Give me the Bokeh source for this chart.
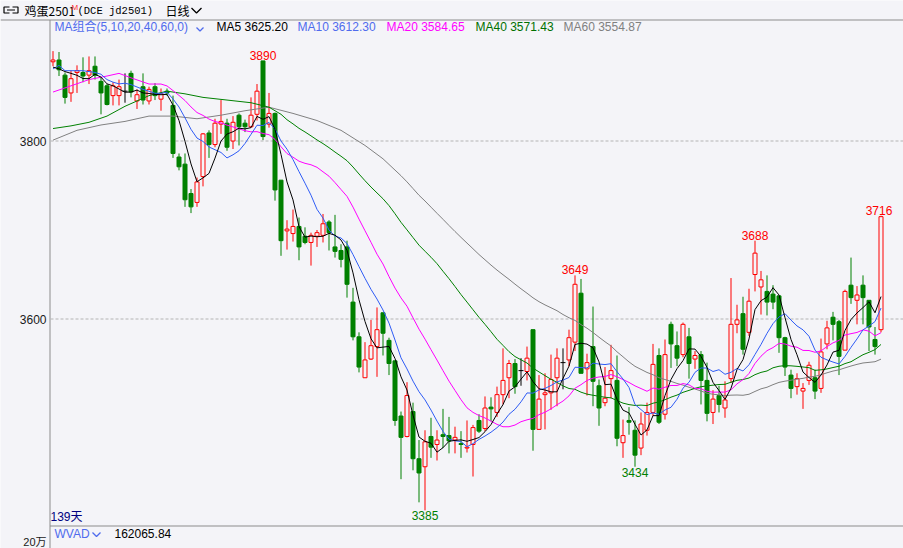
import numpy as np
import pandas as pd
from bokeh.plotting import figure
from bokeh.models import Range1d
from bokeh.core.properties import value
from bokeh.embed import file_html
from bokeh.resources import INLINE

# ---------------- data (daily OHLC, 139 bars) ----------------
opens = [3889, 3891, 3874, 3854, 3877, 3877, 3874, 3884, 3867, 3862,
         3851, 3851, 3856, 3876, 3845, 3861, 3845, 3861, 3847, 3856,
         3840, 3782, 3774, 3741, 3731, 3760, 3809, 3796, 3819, 3820,
         3800, 3829, 3820, 3816, 3830, 3890, 3819, 3831, 3756, 3699,
         3696, 3704, 3693, 3686, 3693, 3694, 3709, 3681, 3677, 3681,
         3619, 3580, 3534, 3555, 3569, 3607, 3576, 3553, 3491, 3468,
         3496, 3443, 3434, 3468, 3459, 3470, 3469, 3464, 3460, 3455,
         3459, 3486, 3477, 3501, 3495, 3515, 3534, 3550, 3542, 3541,
         3588, 3476, 3515, 3517, 3534, 3551, 3554, 3574, 3629, 3544,
         3569, 3525, 3506, 3533, 3531, 3461, 3486, 3475, 3455, 3475,
         3495, 3559, 3493, 3594, 3570, 3560, 3580, 3555, 3560, 3531,
         3495, 3514, 3500, 3533, 3594, 3606, 3585, 3650, 3636, 3631,
         3628, 3626, 3579, 3537, 3524, 3519, 3531, 3534, 3522, 3572,
         3602, 3597, 3565, 3638, 3621, 3638, 3621, 3577, 3588]
highs = [3901, 3900, 3877, 3879, 3885, 3894, 3895, 3895, 3872, 3864,
         3866, 3869, 3876, 3879, 3858, 3876, 3861, 3865, 3859, 3859,
         3851, 3786, 3786, 3746, 3759, 3809, 3812, 3825, 3846, 3825,
         3828, 3831, 3824, 3849, 3864, 3890, 3854, 3832, 3756, 3711,
         3723, 3714, 3703, 3697, 3700, 3718, 3711, 3717, 3684, 3688,
         3635, 3585, 3574, 3599, 3613, 3607, 3579, 3553, 3496, 3529,
         3506, 3464, 3475, 3489, 3475, 3499, 3490, 3479, 3474, 3486,
         3481, 3493, 3513, 3512, 3524, 3567, 3554, 3555, 3556, 3569,
         3588, 3537, 3539, 3560, 3567, 3567, 3588, 3649, 3645, 3561,
         3614, 3532, 3546, 3571, 3559, 3487, 3501, 3486, 3495, 3506,
         3572, 3567, 3577, 3597, 3586, 3596, 3590, 3564, 3564, 3551,
         3520, 3525, 3530, 3646, 3616, 3625, 3634, 3688, 3654, 3649,
         3638, 3626, 3580, 3543, 3539, 3528, 3552, 3543, 3578, 3598,
         3608, 3599, 3633, 3669, 3637, 3649, 3621, 3591, 3716]
lows = [3884, 3873, 3842, 3844, 3854, 3866, 3864, 3869, 3830, 3840,
        3840, 3840, 3843, 3849, 3836, 3841, 3841, 3846, 3834, 3851,
        3781, 3767, 3726, 3719, 3726, 3749, 3781, 3793, 3808, 3789,
        3791, 3795, 3810, 3815, 3823, 3801, 3815, 3733, 3671, 3678,
        3687, 3666, 3684, 3660, 3681, 3686, 3677, 3669, 3658, 3624,
        3576, 3540, 3534, 3554, 3535, 3559, 3537, 3480, 3420, 3467,
        3430, 3394, 3385, 3444, 3441, 3455, 3449, 3449, 3444, 3450,
        3423, 3472, 3474, 3485, 3490, 3504, 3511, 3516, 3525, 3531,
        3452, 3476, 3476, 3498, 3502, 3521, 3547, 3564, 3539, 3514,
        3502, 3480, 3502, 3511, 3457, 3444, 3470, 3434, 3447, 3469,
        3491, 3482, 3487, 3545, 3547, 3557, 3533, 3544, 3504, 3485,
        3482, 3495, 3489, 3528, 3584, 3560, 3581, 3631, 3605, 3604,
        3611, 3562, 3536, 3511, 3515, 3499, 3526, 3510, 3517, 3566,
        3576, 3537, 3565, 3617, 3594, 3594, 3564, 3560, 3585]
closes = [3891, 3880, 3849, 3870, 3879, 3873, 3879, 3874, 3854, 3841,
          3862, 3861, 3856, 3855, 3852, 3846, 3858, 3851, 3853, 3854,
          3786, 3771, 3734, 3726, 3754, 3808, 3796, 3820, 3822, 3793,
          3821, 3816, 3816, 3829, 3856, 3805, 3831, 3745, 3688, 3701,
          3704, 3681, 3686, 3694, 3697, 3707, 3697, 3676, 3667, 3639,
          3580, 3546, 3554, 3570, 3588, 3584, 3550, 3486, 3467, 3514,
          3443, 3427, 3462, 3456, 3464, 3468, 3463, 3467, 3459, 3456,
          3478, 3474, 3500, 3499, 3515, 3531, 3550, 3524, 3542, 3556,
          3476, 3510, 3517, 3532, 3556, 3551, 3579, 3639, 3539, 3551,
          3530, 3500, 3511, 3542, 3466, 3469, 3484, 3447, 3482, 3495,
          3549, 3484, 3560, 3572, 3556, 3594, 3550, 3559, 3531, 3494,
          3510, 3504, 3509, 3594, 3599, 3566, 3620, 3674, 3644, 3619,
          3619, 3579, 3546, 3522, 3533, 3522, 3548, 3519, 3563, 3590,
          3594, 3558, 3631, 3624, 3627, 3624, 3591, 3569, 3715]

# moving-average values before enough bars exist in the window
ma5_head_idx = [0, 1, 2, 3]
ma5_head = [3883, 3881, 3878, 3876]
ma10_head_idx = [0, 1, 2, 3, 4, 5, 6, 7, 8]
ma10_head = [3881, 3885, 3879, 3879, 3879, 3879, 3878, 3877, 3875]
ma20_head_idx = [0, 3, 6, 9, 11, 13, 16, 18]
ma20_head = [3855, 3862, 3869, 3873, 3876, 3871, 3864, 3864]
ma40_head_idx = [0, 3, 6, 9, 12, 16, 19, 22, 25, 29, 33, 36, 38]
ma40_head = [3814, 3817, 3821, 3828, 3839, 3851, 3856, 3853, 3849, 3846, 3843, 3838, 3830]
ma60_head_idx = [0, 4, 8, 12, 16, 20, 24, 28, 32, 36, 40, 44, 48, 52, 55, 58]
ma60_head = [3801, 3812, 3818, 3822, 3828, 3828, 3825, 3829, 3834, 3838, 3831, 3823, 3812, 3795, 3780, 3761]

ma_periods = [5, 10, 20, 40, 60]
ma_labels = ["MA5 3625.20", "MA10 3612.30", "MA20 3584.65", "MA40 3571.43", "MA60 3554.87"]
y_ticks = [3600, 3800]
peak_idx = [35, 87, 117, 138]
trough_idx = [62, 97]
title_name = "鸡蛋2501"
title_code = "(DCE jd2501)"
title_period = "日线"
ma_group_label = "MA组合(5,10,20,40,60,0)"
days_label = "139天"
sub_name = "WVAD"
sub_value = "162065.84"
sub_tick = "20万"

# ---------------- styling ----------------
BG = "#F4F4F8"
RED = "#FF0000"
GREEN = "#008000"
LINE_GREY = "#8C8C8C"
BLUE_TXT = "#4F6BED"
MA_COLORS = ["#000000", "#2F5CF5", "#FF00FF", "#008000", "#808080"]
MA_TXT_COLORS = ["#000000", BLUE_TXT, "#FF00FF", "#007000", "#808080"]
LATIN = value("'Liberation Sans', 'Noto Sans CJK SC', sans-serif")
CJK = value("'Noto Sans CJK SC', sans-serif")
MONO = value("'Liberation Mono', monospace")

W, H = 903, 548


def dx(px):
    # canvas pixel column -> bar index units
    return (px - 52.5) / 6.0


def dy(py):
    # canvas pixel row -> price units
    return 3600 + (318.5 - py) / 0.89


PX = 1.0 / 6.0

p = figure(width=W, height=H,
           x_range=Range1d(dx(0), dx(W)), y_range=Range1d(dy(H), dy(0)),
           x_axis_type=None, y_axis_type=None,
           toolbar_location=None, output_backend="svg",
           min_border=0, min_border_left=0, min_border_right=0,
           min_border_top=0, min_border_bottom=0,
           background_fill_color=BG, border_fill_color=BG,
           outline_line_color=None)

# ---------------- frame lines and grid ----------------
p.segment(x0=[dx(0), dx(49.5), dx(49.5)],
          y0=[dy(19.5), dy(19.5), dy(525.5)],
          x1=[dx(W), dx(49.5), dx(W)],
          y1=[dy(19.5), dy(H), dy(525.5)],
          line_color=LINE_GREY, line_width=1)
p.segment(x0=[dx(50)] * len(y_ticks), y0=y_ticks,
          x1=[dx(W)] * len(y_ticks), y1=y_ticks,
          line_color="#B4B4B4", line_width=1, line_dash="3 2")
p.text(x=[dx(46)] * len(y_ticks), y=y_ticks, text=[str(t) for t in y_ticks],
       text_align="right", text_baseline="middle", text_font=LATIN,
       text_font_size="12px", text_color="#1A1A1A")

# ---------------- candles ----------------
o = np.array(opens, dtype=float)
hi = np.array(highs, dtype=float)
lo = np.array(lows, dtype=float)
cl = np.array(closes, dtype=float)
idx = np.arange(len(cl))
up = cl > o
dn = cl < o
dj = cl == o
wick_col = np.where(up, RED, np.where(dn, GREEN, "#000000"))

p.segment(x0=idx, y0=lo, x1=idx, y1=hi, line_color=list(wick_col), line_width=1)
p.vbar(x=idx[dn], width=4 * PX, top=o[dn], bottom=cl[dn],
       fill_color=GREEN, line_color=GREEN, line_width=1)
p.vbar(x=idx[up], width=4 * PX, top=cl[up], bottom=o[up],
       fill_color=BG, line_color=RED, line_width=1)
p.segment(x0=idx[dj] - 2.5 * PX, y0=o[dj], x1=idx[dj] + 2.5 * PX, y1=o[dj],
          line_color="#000000", line_width=1)

# ---------------- moving averages ----------------
cs = pd.Series(cl)
heads = [(ma5_head_idx, ma5_head), (ma10_head_idx, ma10_head), (ma20_head_idx, ma20_head),
         (ma40_head_idx, ma40_head), (ma60_head_idx, ma60_head)]
for k in reversed(range(len(ma_periods))):
    n = ma_periods[k]
    hidx, hval = heads[k]
    roll = cs.rolling(n).mean()
    xs = list(hidx) + list(range(n - 1, len(cl)))
    ys = list(hval) + list(roll.iloc[n - 1:])
    p.line(xs, ys, line_color=MA_COLORS[k], line_width=1)

# ---------------- extreme labels ----------------
p.text(x=peak_idx, y=[highs[i] for i in peak_idx], text=[str(highs[i]) for i in peak_idx],
       text_align="center", text_baseline="bottom", y_offset=-1,
       x_offset=[0 if i < len(cl) - 1 else -2 for i in peak_idx],
       text_font=LATIN, text_font_size="12px", text_color=RED)
p.text(x=trough_idx, y=[lows[i] for i in trough_idx], text=[str(lows[i]) for i in trough_idx],
       text_align="center", text_baseline="top", y_offset=1,
       text_font=LATIN, text_font_size="12px", text_color=GREEN)

# ---------------- header ----------------
# link icon
p.line([dx(9), dx(3.5), dx(3.5), dx(9)], [dy(6.5), dy(6.5), dy(12.5), dy(12.5)],
       line_color="#000000", line_width=1.2)
p.line([dx(12), dx(17.5), dx(17.5), dx(12)], [dy(6.5), dy(6.5), dy(12.5), dy(12.5)],
       line_color="#000000", line_width=1.2)
p.line([dx(6.5), dx(14.5)], [dy(9.5), dy(9.5)], line_color="#000000", line_width=1.2)

hy = dy(10)
p.text(x=[dx(24)], y=[hy], text=[title_name], text_baseline="middle",
       text_font=CJK, text_font_size="12px", text_color="#000000")
p.text(x=[dx(71)], y=[dy(7)], text=["M"], text_baseline="middle",
       text_font=LATIN, text_font_size="8px", text_color="#FF3030")
p.text(x=[dx(77)], y=[hy], text=[title_code], text_baseline="middle",
       text_font=MONO, text_font_size="10.5px", text_color="#000000")
p.text(x=[dx(165)], y=[hy], text=[title_period], text_baseline="middle",
       text_font=CJK, text_font_size="12px", text_color="#000000")
p.line([dx(191), dx(196), dx(201)], [dy(7.5), dy(12.5), dy(7.5)],
       line_color="#000000", line_width=1.3)

# MA legend row
ly = dy(26.5)
p.text(x=[dx(54)], y=[ly], text=[ma_group_label], text_baseline="middle",
       text_font=LATIN, text_font_size="12px", text_color=BLUE_TXT)
p.line([dx(196), dx(199.5), dx(203)], [dy(27), dy(30.5), dy(27)],
       line_color=BLUE_TXT, line_width=1.3)
legend_x = [216, 297, 386, 475, 563]
for k in range(len(ma_labels)):
    p.text(x=[dx(legend_x[k])], y=[ly], text=[ma_labels[k]], text_baseline="middle",
           text_font=LATIN, text_font_size="12px", text_color=MA_TXT_COLORS[k])

# bottom texts
p.text(x=[dx(50)], y=[dy(516)], text=[days_label], text_baseline="middle",
       text_font=LATIN, text_font_size="12px", text_color="#000080")
p.text(x=[dx(54)], y=[dy(533)], text=[sub_name], text_baseline="middle",
       text_font=LATIN, text_font_size="12px", text_color=BLUE_TXT)
p.line([dx(92), dx(96), dx(100)], [dy(532), dy(536), dy(532)],
       line_color=BLUE_TXT, line_width=1.3)
p.text(x=[dx(114)], y=[dy(533)], text=[sub_value], text_baseline="middle",
       text_font=LATIN, text_font_size="12px", text_color="#000000")
p.text(x=[dx(46)], y=[dy(547.5)], text=[sub_tick], text_align="right", text_baseline="bottom",
       text_font=LATIN, text_font_size="11px", text_color="#1A1A1A")

open("out.html", "w").write(file_html(p, INLINE))
